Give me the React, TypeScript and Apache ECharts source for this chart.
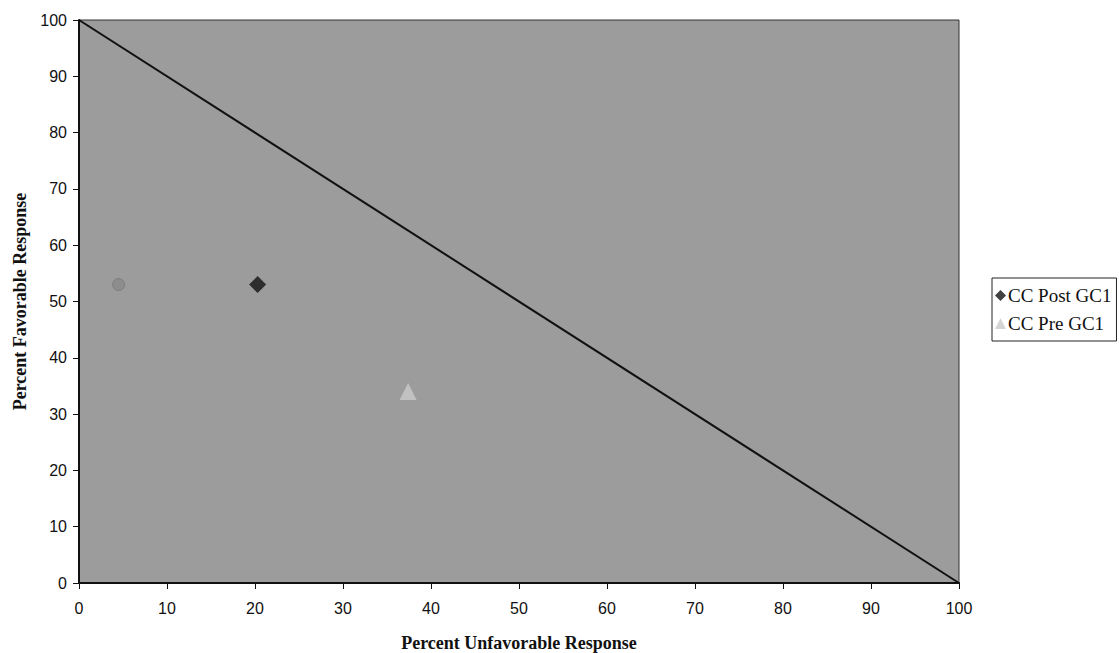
import React, { useEffect, useRef } from "react";
import * as echarts from "echarts";

const xTicks = [0, 10, 20, 30, 40, 50, 60, 70, 80, 90, 100];
const diagonal: [number, number][] = [[0, 100], [100, 0]];
const postGC1: [number, number][] = [[20.3, 53]];
const preGC1: [number, number][] = [[37.4, 34]];
const extraDot: [number, number][] = [[4.5, 53]];

export default function App() {
  const ref = useRef<HTMLDivElement>(null);
  useEffect(() => {
    const chart = echarts.init(ref.current!, null, { renderer: "svg" });
    const tickFont = { fontFamily: "Liberation Sans, Arial, sans-serif", fontSize: 16, color: "#111" };
    const nameFont = { fontFamily: "Liberation Serif, serif", fontWeight: "bold", fontSize: 18, color: "#111" };
    chart.setOption({
      animation: false,
      backgroundColor: "#ffffff",
      grid: {
        left: 79, right: 160, top: 20, bottom: 70,
        outerBoundsMode: "none", containLabel: false,
        show: true, backgroundColor: "#9c9c9c", borderColor: "#333", borderWidth: 1,
      },
      xAxis: {
        type: "value", min: 0, max: 100, interval: 10,
        name: "Percent Unfavorable Response", nameLocation: "middle", nameGap: 51,
        nameTextStyle: nameFont,
        axisLine: { show: true, lineStyle: { color: "#111", width: 2 } },
        axisTick: { show: true, length: 6, lineStyle: { color: "#111" } },
        axisLabel: { ...tickFont, margin: 17, formatter: (v: number) => (xTicks.includes(v) ? String(v) : "") },
        splitLine: { show: false },
      },
      yAxis: {
        type: "value", min: 0, max: 100, interval: 10,
        name: "Percent Favorable Response", nameLocation: "middle", nameGap: 50,
        nameTextStyle: nameFont,
        axisLine: { show: true, lineStyle: { color: "#111", width: 2 } },
        axisTick: { show: true, length: 6, lineStyle: { color: "#111" } },
        axisLabel: { ...tickFont, margin: 12 },
        splitLine: { show: false },
      },
      legend: {
        orient: "vertical", left: 992, top: 278,
        backgroundColor: "#ffffff", borderColor: "#222", borderWidth: 1,
        padding: [8, 5, 8, 3], itemGap: 9, itemWidth: 11, itemHeight: 11,
        textStyle: { fontFamily: "Liberation Serif, serif", fontSize: 19, color: "#111", padding: [0, 0, 0, -3] },
        data: [
          { name: "CC Post GC1", icon: "diamond" },
          { name: "CC Pre GC1", icon: "triangle" },
        ],
      },
      series: [
        {
          type: "line", data: diagonal, symbol: "none", silent: true,
          lineStyle: { color: "#111", width: 2 },
        },
        {
          name: "CC Post GC1", type: "scatter", data: postGC1, symbol: "diamond", symbolSize: 17,
          itemStyle: { color: "#111" },
        },
        {
          name: "CC Pre GC1", type: "scatter", data: preGC1, symbol: "triangle", symbolSize: 17,
          itemStyle: { color: "#cbcbcb" },
        },
        {
          type: "scatter", data: extraDot, symbol: "circle", symbolSize: 12,
          itemStyle: { color: "#8a8a8a", borderColor: "#777", borderWidth: 1 },
        },
      ],
    });
    return () => chart.dispose();
  }, []);
  return <div ref={ref} style={{ width: 1119, height: 653, position: "absolute", left: 0, top: 0 }} />;
}
